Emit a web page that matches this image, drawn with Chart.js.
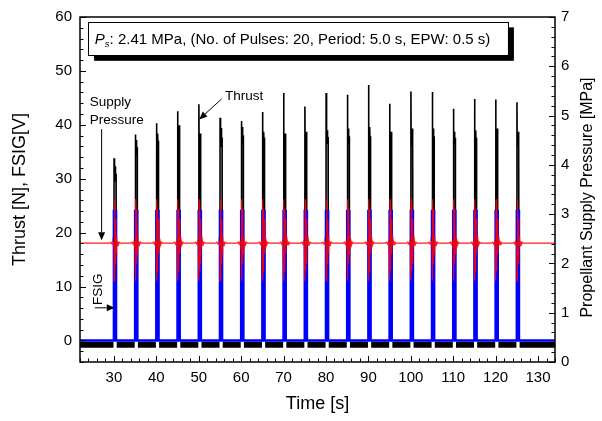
<!DOCTYPE html>
<html>
<head>
<meta charset="utf-8">
<script src="https://cdn.jsdelivr.net/npm/chart.js@4.4.0/dist/chart.umd.min.js"></script>
<style>
  html, body { margin: 0; padding: 0; background: #fff; }
  #wrap { width: 602px; height: 421px; }
</style>
</head>
<body>
<div id="wrap"><canvas id="chart" width="602" height="421"></canvas></div>
<script>
const FONT = "Arial, 'Liberation Sans', sans-serif";

// Pulse train: 20 pulses, period 5.0 s, EPW 0.5 s
const pulseStarts = [30, 35, 40, 45, 50, 55, 60, 65, 70, 75, 80, 85, 90, 95, 100, 105, 110, 115, 120, 125];
const pulseWidth = 0.5;

// Thrust [N]
const thrustPeaks = [33.8, 38.2, 40.3, 42.5, 43.8, 41.3, 40.7, 42.4, 45.9, 43.4,
                     45.9, 45.6, 47.4, 43.9, 46.2, 46.1, 43.0, 44.8, 44.7, 44.2];
const thrustPlateauHigh = [32.3, 37.2, 38.4, 39.9, 38.4, 39.4, 39.6, 38.7, 38.4, 38.7,
                           39.0, 39.3, 39.6, 38.7, 39.3, 39.3, 38.7, 39.0, 39.3, 38.7];
const thrustPlateauLow = [29.5, 34.5, 35.7, 35.7, 35.7, 35.9, 36.5, 36.5, 36.8, 35.9,
                          36.5, 36.5, 36.2, 36.5, 36.2, 36.5, 36.5, 36.2, 36.5, 36.2];
const thrustBaseline = -0.8;

// FSIG [V]
const fsigLow = 0;
const fsigHigh = 24;

// Supply pressure [MPa] and its wiggle around each pulse (time from pulse start)
const supplyPressure = 2.41;
const pressureWiggleTimes = [-1.0, -0.7, -0.45, -0.25, -0.1, 0.0, 0.04, 0.1, 0.17, 0.24, 0.32, 0.4,
                             0.5, 0.62, 0.75, 0.9, 1.05, 1.25, 1.5];
const pressureWiggleValues = [2.41, 2.43, 2.39, 2.44, 2.38, 2.42, 1.65, 3.30, 1.85, 3.10, 2.00, 2.90,
                              2.20, 2.55, 2.36, 2.45, 2.38, 2.43, 2.41];

// axes
const xMin = 22, xMax = 134;
const yMin = -4, yMax = 60;
const y2Min = 0, y2Max = 7;
const xTicks = [30, 40, 50, 60, 70, 80, 90, 100, 110, 120, 130];
const yTicks = [0, 10, 20, 30, 40, 50, 60];
const y2Ticks = [0, 1, 2, 3, 4, 5, 6, 7];

// build the series
const thrustData = [];
pulseStarts.forEach((t, i) => {
  const hi = thrustPlateauHigh[i], lo = thrustPlateauLow[i];
  thrustData.push(
    {x: t, y: 0}, {x: t + 0.03, y: thrustPeaks[i]},
    {x: t + 0.07, y: hi}, {x: t + 0.12, y: lo}, {x: t + 0.17, y: hi}, {x: t + 0.22, y: lo},
    {x: t + 0.27, y: hi}, {x: t + 0.32, y: lo}, {x: t + 0.37, y: hi}, {x: t + 0.42, y: lo},
    {x: t + pulseWidth, y: (hi + lo) / 2}, {x: t + pulseWidth + 0.02, y: 0},
    {x: t + pulseWidth + 0.03, y: null});
});

const baselineData = [{x: xMin, y: thrustBaseline}];
pulseStarts.forEach((t) => {
  baselineData.push({x: t - 0.1, y: thrustBaseline}, {x: t + 0.2, y: null}, {x: t + 0.65, y: thrustBaseline});
});
baselineData.push({x: xMax, y: thrustBaseline});

const fsigData = [{x: xMin, y: fsigLow}];
pulseStarts.forEach((t) => {
  fsigData.push({x: t, y: fsigLow}, {x: t, y: fsigHigh},
                {x: t + pulseWidth, y: fsigHigh}, {x: t + pulseWidth, y: fsigLow});
});
fsigData.push({x: xMax, y: fsigLow});

const pressureData = [{x: xMin, y: supplyPressure}];
pulseStarts.forEach((t) => {
  pressureWiggleTimes.forEach((dt, k) => pressureData.push({x: t + dt, y: pressureWiggleValues[k]}));
});
pressureData.push({x: xMax, y: supplyPressure});

function arrow(ctx, x1, y1, x2, y2) {
  const a = Math.atan2(y2 - y1, x2 - x1), len = 8, w = 3.5;
  ctx.beginPath();
  ctx.moveTo(x1, y1);
  ctx.lineTo(x2 - Math.cos(a) * len, y2 - Math.sin(a) * len);
  ctx.stroke();
  ctx.beginPath();
  ctx.moveTo(x2, y2);
  ctx.lineTo(x2 - Math.cos(a) * len - Math.sin(a) * w, y2 - Math.sin(a) * len + Math.cos(a) * w);
  ctx.lineTo(x2 - Math.cos(a) * len + Math.sin(a) * w, y2 - Math.sin(a) * len - Math.cos(a) * w);
  ctx.closePath();
  ctx.fill();
}

const decorPlugin = {
  id: 'decor',
  afterDraw(chart) {
    const ctx = chart.ctx, a = chart.chartArea;
    const sx = chart.scales.x, sy = chart.scales.y, sy2 = chart.scales.y2;
    const X = v => sx.getPixelForValue(v), Y = v => sy.getPixelForValue(v);
    ctx.save();
    ctx.strokeStyle = '#000';
    ctx.fillStyle = '#000';

    // inward ticks
    ctx.lineWidth = 1;
    ctx.beginPath();
    for (let v = yMin; v <= yMax + 1e-6; v += 2) {
      const p = Math.round(Y(v)) + 0.5, len = v % 10 === 0 ? 6 : 3.5;
      ctx.moveTo(a.left, p); ctx.lineTo(a.left + len, p);
    }
    for (let k = 0; k <= 35; k++) {
      const v = k * 0.2, p = Math.round(sy2.getPixelForValue(v)) + 0.5, len = k % 5 === 0 ? 6 : 3.5;
      ctx.moveTo(a.right, p); ctx.lineTo(a.right - len, p);
    }
    for (let v = xMin; v <= xMax + 1e-6; v += 2) {
      const p = Math.round(X(v)) + 0.5, len = v % 10 === 0 ? 6 : 3.5;
      ctx.moveTo(p, a.bottom); ctx.lineTo(p, a.bottom - len);
    }
    ctx.stroke();

    // frame
    ctx.lineWidth = 1.5;
    ctx.strokeRect(a.left, a.top, a.right - a.left, a.bottom - a.top);

    // annotations
    ctx.lineWidth = 1;
    ctx.font = '13.5px ' + FONT;
    ctx.textAlign = 'left';
    ctx.textBaseline = 'alphabetic';
    ctx.fillText('Supply', X(24.3), Y(43.4));
    ctx.fillText('Pressure', X(24.3), Y(40.2));
    arrow(ctx, X(27.1), Y(39.2), X(27.1), Y(18.6));

    ctx.fillText('Thrust', X(56.2), Y(44.6));
    arrow(ctx, X(55.4), Y(44.8), X(50.1), Y(41.0));

    ctx.save();
    ctx.translate(X(27.2), Y(9.5));
    ctx.rotate(-Math.PI / 2);
    ctx.textAlign = 'center';
    ctx.fillText('FSIG', 0, 0);
    ctx.restore();
    arrow(ctx, X(25.5), Y(6.05), X(30.2), Y(6.05));

    // title box with shadow
    const bl = X(23.9), br = X(122.9), bt = Y(59.0), bb = Y(52.8);
    ctx.fillRect(bl + 6, bt + 5, br - bl, bb - bt);
    ctx.fillStyle = '#fff';
    ctx.fillRect(bl, bt, br - bl, bb - bt);
    ctx.strokeStyle = '#000';
    ctx.strokeRect(Math.round(bl) + 0.5, Math.round(bt) + 0.5, Math.round(br - bl), Math.round(bb - bt));
    ctx.fillStyle = '#000';
    let tx = X(25.5);
    const ty = Y(54.9);
    ctx.font = 'italic 15px ' + FONT;
    ctx.fillText('P', tx, ty);
    tx += ctx.measureText('P').width;
    ctx.font = 'italic 9.5px ' + FONT;
    ctx.fillText('s', tx, ty + 3);
    tx += ctx.measureText('s').width;
    ctx.font = '15px ' + FONT;
    ctx.fillText(': 2.41 MPa, (No. of Pulses: 20, Period: 5.0 s, EPW: 0.5 s)', tx, ty);

    // right axis title (reads bottom to top)
    ctx.save();
    ctx.translate(588, (a.top + a.bottom) / 2 + 8);
    ctx.rotate(-Math.PI / 2);
    ctx.font = '16px ' + FONT;
    ctx.textAlign = 'center';
    ctx.textBaseline = 'middle';
    ctx.fillText('Propellant Supply Pressure [MPa]', 0, 0);
    ctx.restore();

    ctx.restore();
  }
};

const tickFont = {family: FONT, size: 15};
const noGrid = {display: false, drawTicks: false};

new Chart(document.getElementById('chart'), {
  type: 'line',
  data: {
    datasets: [
      {label: 'Supply Pressure', data: pressureData, yAxisID: 'y2', borderColor: 'rgba(255,0,0,0.9)', borderWidth: 1.2},
      {label: 'FSIG', data: fsigData, yAxisID: 'y', borderColor: '#0000ff', borderWidth: 2.5},
      {label: 'Thrust', data: thrustData, yAxisID: 'y', borderColor: '#000', borderWidth: 1.6},
      {label: 'Thrust baseline', data: baselineData, yAxisID: 'y', borderColor: '#000', borderWidth: 6, borderCapStyle: 'butt'},
    ],
  },
  options: {
    responsive: false,
    devicePixelRatio: 1,
    animation: false,
    spanGaps: false,
    elements: {point: {radius: 0}, line: {tension: 0, borderJoinStyle: 'miter'}},
    layout: {padding: {top: 14, left: 0, right: 0, bottom: 0}},
    plugins: {legend: {display: false}, tooltip: {enabled: false}},
    scales: {
      x: {
        type: 'linear', position: 'bottom', min: xMin, max: xMax,
        grid: noGrid, border: {display: false},
        afterBuildTicks: s => { s.ticks = xTicks.map(v => ({value: v})); },
        afterFit: s => { s.height = 59; },
        ticks: {font: tickFont, color: '#000', padding: 7, maxRotation: 0, autoSkip: false},
        title: {display: true, text: 'Time [s]', color: '#000', font: {family: FONT, size: 18}, padding: {top: 0, bottom: 6}},
      },
      y: {
        type: 'linear', position: 'left', min: yMin, max: yMax,
        grid: noGrid, border: {display: false},
        afterBuildTicks: s => { s.ticks = yTicks.map(v => ({value: v})); },
        afterFit: s => { s.width = 80; },
        ticks: {font: tickFont, color: '#000', padding: 8},
        title: {display: true, text: 'Thrust [N], FSIG[V]', color: '#000', font: {family: FONT, size: 18}, padding: {top: 9, bottom: 0}},
      },
      y2: {
        type: 'linear', position: 'right', min: y2Min, max: y2Max,
        grid: noGrid, border: {display: false},
        afterBuildTicks: s => { s.ticks = y2Ticks.map(v => ({value: v})); },
        afterFit: s => { s.width = 47; },
        ticks: {font: tickFont, color: '#000', padding: 6},
      },
    },
  },
  plugins: [decorPlugin],
});
</script>
</body>
</html>
